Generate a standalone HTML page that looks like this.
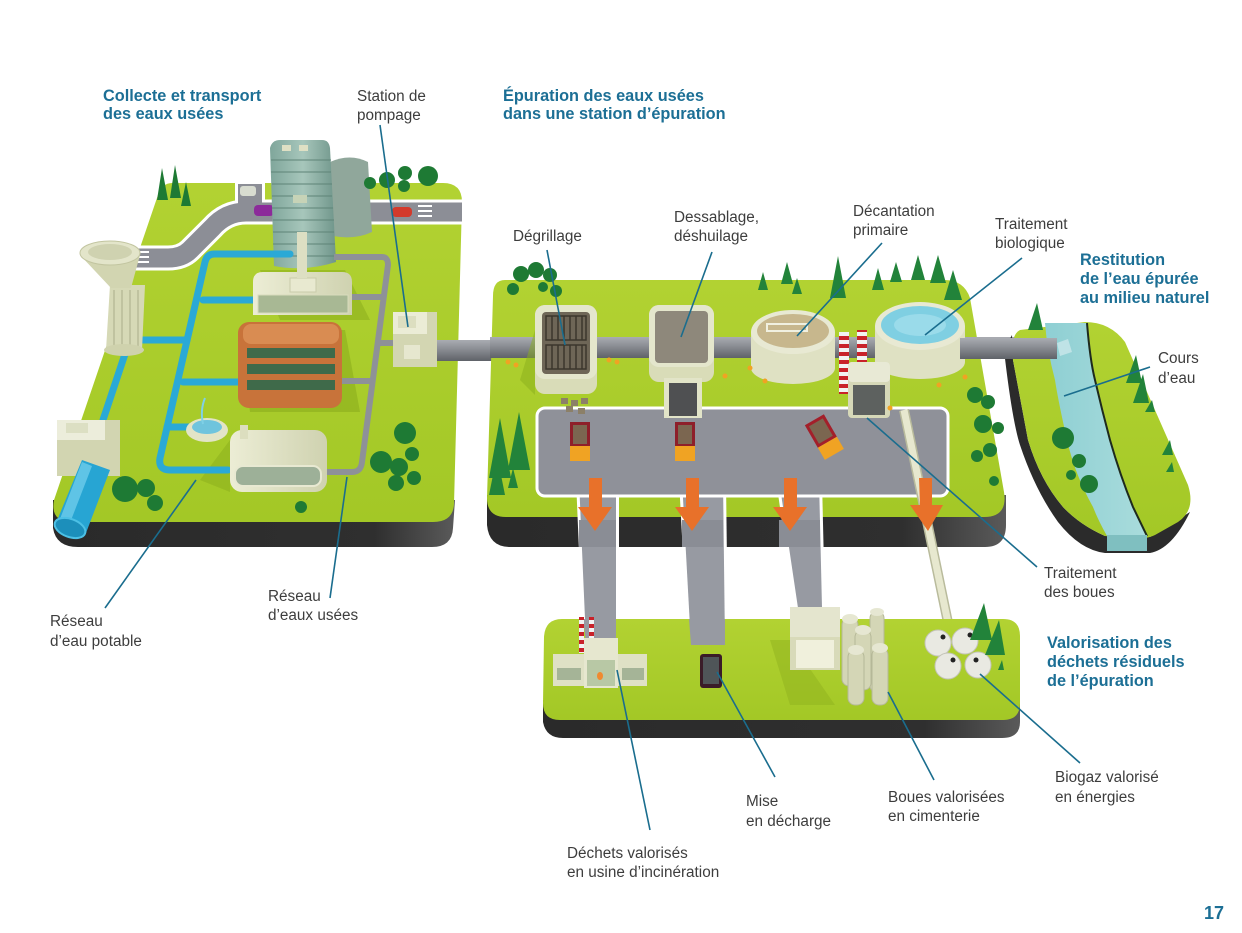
<!DOCTYPE html>
<html><head><meta charset="utf-8">
<style>
html,body{margin:0;padding:0;background:#fff;}
svg{display:block;}
.t{font-family:"Liberation Sans",Arial,sans-serif;font-size:15.3px;fill:#3d3d3d;}
.b{font-family:"Liberation Sans",Arial,sans-serif;font-size:16.3px;font-weight:bold;fill:#1c6f95;}
.ld{stroke:#1a6d8e;stroke-width:1.6;fill:none;}
</style></head><body>
<svg width="1242" height="933" viewBox="0 0 1242 933" xmlns="http://www.w3.org/2000/svg">
<defs>
<linearGradient id="gA" x1="0" y1="0" x2="0" y2="1"><stop offset="0" stop-color="#b2d232"/><stop offset="1" stop-color="#a3c826"/></linearGradient>
<linearGradient id="baseR" x1="0" y1="0" x2="1" y2="0"><stop offset="0" stop-color="#2a2a2a"/><stop offset="0.8" stop-color="#2f2f2f"/><stop offset="1" stop-color="#5a5a5a"/></linearGradient>
<linearGradient id="pipe" x1="0" y1="0" x2="0" y2="1"><stop offset="0" stop-color="#a9acb2"/><stop offset="0.4" stop-color="#8d9096"/><stop offset="1" stop-color="#5f6268"/></linearGradient>
<linearGradient id="cream" x1="0" y1="0" x2="1" y2="0"><stop offset="0" stop-color="#ecedd5"/><stop offset="1" stop-color="#cfd2b0"/></linearGradient>
<linearGradient id="glass" x1="0" y1="0" x2="1" y2="0"><stop offset="0" stop-color="#7fa69b"/><stop offset="0.5" stop-color="#a7c6bb"/><stop offset="1" stop-color="#6f958a"/></linearGradient>
<linearGradient id="river" x1="0" y1="0" x2="1" y2="0"><stop offset="0" stop-color="#8ecfd3"/><stop offset="1" stop-color="#a9dcdc"/></linearGradient>
<pattern id="stripe" width="10" height="8" patternUnits="userSpaceOnUse"><rect width="10" height="4" fill="#c9222a"/><rect y="4" width="10" height="4" fill="#f2f2f2"/></pattern>
</defs>

<!-- ================= LEFT PLATFORM ================= -->
<path d="M53 500 L53 528 Q56 547 78 547 L432 547 Q452 547 453 528 L455 500 Z" fill="url(#baseR)"/>
<path d="M172 183 L443 183 Q462 183 462 202 L454 504 Q453 522 433 522 L72 522 Q50 522 54 500 L158 195 Q162 183 172 183 Z" fill="url(#gA)"/>
<!-- roads -->
<path d="M462 212 L246 212 Q226 212 212 228 L190 250 Q182 258 168 258 L133 258" fill="none" stroke="#fff" stroke-width="25"/>
<path d="M250 183 L250 212" fill="none" stroke="#fff" stroke-width="30"/>
<path d="M462 212 L246 212 Q226 212 212 228 L190 250 Q182 258 168 258 L133 258" fill="none" stroke="#8c8e96" stroke-width="19"/>
<path d="M250 184 L250 212" fill="none" stroke="#8c8e96" stroke-width="24"/>
<g fill="#fff"><rect x="418" y="205" width="14" height="2"/><rect x="418" y="210" width="14" height="2"/><rect x="418" y="215" width="14" height="2"/><rect x="137" y="251" width="12" height="2"/><rect x="137" y="256" width="12" height="2"/><rect x="137" y="261" width="12" height="2"/></g>
<!-- cars -->
<rect x="254" y="205" width="20" height="11" rx="4" fill="#8c2a9a"/>
<rect x="392" y="207" width="20" height="10" rx="4" fill="#d33a2c"/>
<rect x="240" y="186" width="16" height="10" rx="3" fill="#d8dcd0"/>
<!-- shadows -->
<path d="M260 270 L345 270 L370 320 L280 320 Z" fill="#8eb11e" opacity="0.6"/>
<path d="M240 330 L345 330 L360 412 L250 412 Z" fill="#86a81a" opacity="0.5"/>
<path d="M200 480 L230 440 L230 492 Z" fill="#8aad1c" opacity="0.5"/>
<!-- back building & tower -->
<path d="M330 162 Q350 153 368 162 L372 232 Q355 240 333 236 Z" fill="#90a79b"/>
<path d="M270 148 Q272 140 280 140 L322 140 Q329 140 330 148 L336 262 Q305 272 274 266 Z" fill="url(#glass)"/>
<g stroke="#5f8578" stroke-width="1.2" opacity="0.8">
<line x1="271" y1="160" x2="331" y2="160"/><line x1="271" y1="172" x2="331" y2="172"/><line x1="272" y1="184" x2="332" y2="184"/><line x1="272" y1="196" x2="332" y2="196"/><line x1="272" y1="208" x2="333" y2="208"/><line x1="273" y1="220" x2="334" y2="220"/><line x1="273" y1="232" x2="334" y2="232"/><line x1="273" y1="244" x2="335" y2="244"/><line x1="274" y1="256" x2="335" y2="256"/></g>
<rect x="282" y="145" width="9" height="6" fill="#dfe0c4"/><rect x="299" y="145" width="9" height="6" fill="#dfe0c4"/>
<rect x="293" y="195" width="14" height="8" fill="#c7d3b7"/>
<!-- blue water network -->
<g fill="none" stroke="#2aa9d6" stroke-width="7" stroke-linejoin="round" stroke-linecap="round">
<path d="M290 254 L214 254 Q207 254 205 262 L160 458 Q158 470 170 470 L228 470"/>
<path d="M203 300 L256 300"/>
<path d="M183 382 L240 382"/>
<path d="M167 427 L192 427"/>
<path d="M143 340 L187 340"/>
<path d="M127 348 L103 420"/>
</g>
<!-- grey sewer network -->
<g fill="none" stroke="#8e9198" stroke-width="6" stroke-linejoin="round">
<path d="M334 257 L382 257 Q388 257 388 265 L362 462 Q361 472 352 472 L322 472"/>
<path d="M352 297 L382 297"/>
<path d="M340 381 L372 381"/>
<path d="M376 343 L395 343"/>
</g>
<!-- water tower -->
<path d="M110 285 L145 285 L142 350 L106 350 Z" fill="#d6d9b6"/>
<path d="M114 290 L114 347 M122 290 L122 347 M130 290 L130 347 M138 290 L138 347" stroke="#b9bc98" stroke-width="1.5"/>
<ellipse cx="124" cy="350" rx="20" ry="6" fill="#cfd2ad"/>
<path d="M80 255 L140 255 L131 288 L111 288 Z" fill="#d2d5b1"/>
<ellipse cx="110" cy="253" rx="30" ry="12" fill="#e3e5ca" stroke="#c2c5a0"/>
<ellipse cx="110" cy="252" rx="22" ry="8" fill="#cfd2b0"/>
<!-- top cream building -->
<path d="M253 282 Q253 272 263 272 L342 272 Q352 272 352 282 L352 315 L253 315 Z" fill="url(#cream)"/>
<rect x="258" y="295" width="90" height="18" fill="#a8b894" stroke="#d9dbbd"/>
<rect x="290" y="278" width="26" height="14" fill="#e8e9d0" stroke="#c9cbaa"/>
<rect x="297" y="232" width="10" height="46" fill="#dddfc3"/>
<!-- orange building -->
<rect x="238" y="322" width="104" height="86" rx="11" fill="#c8733a"/>
<rect x="243" y="324" width="96" height="20" rx="8" fill="#d98c52"/>
<g fill="#3f6a4a"><rect x="247" y="348" width="88" height="10"/><rect x="247" y="364" width="88" height="10"/><rect x="247" y="380" width="88" height="10"/></g>
<!-- fountain -->
<ellipse cx="207" cy="430" rx="21" ry="12" fill="#e2e4c7"/>
<ellipse cx="207" cy="427" rx="15" ry="7" fill="#6fc4dd"/>
<path d="M203 424 Q200 410 205 398" stroke="#7fd0e6" stroke-width="2" fill="none"/>
<!-- bottom cream building -->
<rect x="230" y="430" width="97" height="62" rx="12" fill="url(#cream)"/>
<rect x="235" y="466" width="86" height="20" rx="8" fill="#9db098" stroke="#e8e9d2" stroke-width="2"/>
<rect x="240" y="425" width="8" height="14" fill="#dcdebf"/>
<!-- pump box -->
<rect x="393" y="312" width="44" height="55" fill="#d3d6b2"/>
<rect x="393" y="312" width="34" height="22" fill="#ebecd6"/>
<rect x="398" y="316" width="18" height="12" fill="#dcdec0"/>
<rect x="404" y="345" width="16" height="14" fill="#e6e7cf"/>
<!-- left box & blue outlet -->
<rect x="57" y="420" width="63" height="56" fill="#d2d5b1"/>
<rect x="57" y="420" width="48" height="20" fill="#eceddb"/>
<rect x="66" y="423" width="22" height="10" fill="#dcdfc3"/>
<path d="M82 460 L110 470 L86 533 L56 523 Z" fill="#27a5d3"/>
<path d="M82 462 L92 466 L68 528 L58 524 Z" fill="#5fc4e6"/>
<ellipse cx="70" cy="528" rx="16" ry="9" transform="rotate(20 70 528)" fill="#1c8fbb" stroke="#4cc0e5" stroke-width="2"/>
<!-- trees left -->
<g fill="#1e7a34">
<circle cx="125" cy="489" r="13"/><circle cx="146" cy="488" r="9"/><circle cx="155" cy="503" r="8"/>
<circle cx="405" cy="433" r="11"/><circle cx="381" cy="462" r="11"/><circle cx="399" cy="467" r="9"/><circle cx="412" cy="454" r="7"/><circle cx="396" cy="483" r="8"/><circle cx="414" cy="478" r="7"/>
<circle cx="301" cy="507" r="6"/>
<circle cx="370" cy="183" r="6"/><circle cx="387" cy="180" r="8"/><circle cx="404" cy="186" r="6"/><circle cx="405" cy="173" r="7"/><circle cx="428" cy="176" r="10"/>
<path d="M157 200 L162 168 L168 200 Z M170 198 L175 165 L181 198 Z M181 206 L186 182 L191 206 Z"/>
</g>
<!-- main grey pipe -->
<rect x="437" y="340" width="60" height="21" fill="url(#pipe)"/>

<!-- ================= MIDDLE PLATFORM ================= -->
<path d="M487 495 L487 525 Q489 547 510 547 L985 547 Q1006 547 1006 525 L1006 495 Z" fill="url(#baseR)"/>
<path d="M505 280 L944 280 Q964 280 970 298 L1004 492 Q1008 517 984 517 L506 517 Q487 517 487 498 L493 296 Q493 280 505 280 Z" fill="url(#gA)"/>
<!-- road connections going down -->
<g>
<path d="M576 480 L619 480 L619 645 L583 645 Z" fill="#fff"/>
<path d="M579 480 L616 480 L616 642 L586 642 Z" fill="#979aa2"/>
<path d="M679 480 L726 480 L728 648 L688 648 Z" fill="#fff"/>
<path d="M682 480 L723 480 L725 645 L691 645 Z" fill="#979aa2"/>
<path d="M776 480 L822 480 L825 610 L795 610 Z" fill="#fff"/>
<path d="M779 480 L819 480 L822 608 L798 608 Z" fill="#979aa2"/>
<path d="M579 520 L616 520 L616 547 L579 547 Z M682 520 L723 520 L723 547 L682 547 Z M779 520 L820 520 L820 547 L779 547 Z" fill="#8a8d95"/>
</g>
<!-- main pipe middle -->
<rect x="490" y="337" width="570" height="21" fill="url(#pipe)"/>
<!-- paved area -->
<rect x="537" y="408" width="411" height="88" rx="8" fill="#8f9199" stroke="#fff" stroke-width="3"/>
<!-- shadows -->
<path d="M520 380 L535 330 L535 395 Z" fill="#8aad1c" opacity="0.5"/>
<!-- Degrillage tank -->
<rect x="535" y="305" width="62" height="89" rx="10" fill="#d9dcb8"/>
<rect x="535" y="305" width="62" height="74" rx="10" fill="#e4e6cc"/>
<rect x="542" y="312" width="48" height="62" rx="4" fill="#6e6657"/>
<g stroke="#3b362d" stroke-width="1.5" fill="none"><rect x="546" y="316" width="40" height="24"/><rect x="546" y="345" width="40" height="24"/>
<path d="M552 316 V340 M558 316 V340 M564 316 V340 M570 316 V340 M576 316 V340 M582 316 V340 M552 345 V369 M558 345 V369 M564 345 V369 M570 345 V369 M576 345 V369 M582 345 V369"/></g>
<!-- Dessablage tank -->
<rect x="649" y="305" width="65" height="77" rx="10" fill="#d9dcb8"/>
<rect x="649" y="305" width="65" height="62" rx="10" fill="#e4e6cc"/>
<rect x="655" y="311" width="53" height="52" rx="4" fill="#8e887b"/>
<rect x="664" y="378" width="38" height="40" fill="#e2e4c8"/>
<rect x="669" y="383" width="28" height="33" fill="#4f5052"/>
<!-- Decantation -->
<path d="M751 332 L751 368 A42 16 0 0 0 835 368 L835 332 Z" fill="#dfe1c3"/>
<ellipse cx="793" cy="332" rx="42" ry="22" fill="#e8e9d3"/>
<ellipse cx="793" cy="331" rx="36" ry="17" fill="#c7b78d"/>
<rect x="767" y="324" width="40" height="7" fill="none" stroke="#f0f0e0" stroke-width="2"/>
<!-- chimneys -->
<rect x="839" y="332" width="10" height="62" fill="url(#stripe)"/>
<rect x="857" y="330" width="10" height="62" fill="url(#stripe)"/>
<!-- Biologique -->
<path d="M875 326 L875 362 A45 17 0 0 0 965 362 L965 326 Z" fill="#dfe1c3"/>
<ellipse cx="920" cy="326" rx="45" ry="24" fill="#e8e9d3"/>
<ellipse cx="920" cy="325" rx="39" ry="19" fill="#7fcfe2"/>
<ellipse cx="920" cy="325" rx="26" ry="11" fill="#a5e0ee" opacity="0.7"/>
<!-- sludge box -->
<rect x="848" y="362" width="42" height="56" rx="4" fill="#d6d8b8"/>
<rect x="848" y="362" width="42" height="20" rx="4" fill="#e8e9d5"/>
<rect x="853" y="385" width="32" height="30" fill="#5d615f"/>
<!-- cream tube -->
<path d="M904 410 L952 642" stroke="#b9bb9c" stroke-width="10" fill="none"/>
<path d="M904 410 L952 642" stroke="#e7e8cf" stroke-width="7" fill="none"/>
<!-- rocks -->
<g fill="#8c8068"><rect x="561" y="398" width="7" height="6"/><rect x="571" y="400" width="7" height="6"/><rect x="581" y="398" width="7" height="6"/><rect x="566" y="406" width="7" height="6"/><rect x="578" y="408" width="7" height="6"/></g>
<!-- trucks -->
<rect x="570" y="422" width="20" height="25" fill="#8e1f2a"/><rect x="573" y="425" width="14" height="19" fill="#7b6650"/><rect x="570" y="446" width="20" height="15" fill="#f0a323"/>
<rect x="675" y="422" width="20" height="25" fill="#8e1f2a"/><rect x="678" y="425" width="14" height="19" fill="#7b6650"/><rect x="675" y="446" width="20" height="15" fill="#f0a323"/>
<g transform="rotate(-30 822 435)"><rect x="812" y="418" width="22" height="26" fill="#a31f2a"/><rect x="815" y="421" width="16" height="20" fill="#7b6650"/><rect x="812" y="444" width="22" height="14" fill="#f0a323"/></g>
<!-- arrows -->
<g fill="#e8712a">
<path d="M589 478 L602 478 L602 507 L612 507 L595 531 L578 507 L589 507 Z"/>
<path d="M686 478 L699 478 L699 507 L709 507 L692 531 L675 507 L686 507 Z"/>
<path d="M784 478 L797 478 L797 507 L807 507 L790 531 L773 507 L784 507 Z"/>
<path d="M919 478 L932 478 L932 505 L943 505 L928 531 L910 505 L920 505 Z"/>
</g>
<!-- trees middle -->
<g fill="#1e7a34">
<circle cx="521" cy="274" r="8"/><circle cx="536" cy="270" r="8"/><circle cx="550" cy="275" r="7"/><circle cx="556" cy="291" r="6"/><circle cx="513" cy="289" r="6"/><circle cx="543" cy="287" r="5"/>
<circle cx="975" cy="395" r="8"/><circle cx="988" cy="402" r="7"/><circle cx="983" cy="424" r="9"/><circle cx="998" cy="428" r="6"/><circle cx="990" cy="450" r="7"/><circle cx="977" cy="456" r="6"/><circle cx="994" cy="481" r="5"/>
</g>
<g fill="#22833a">
<path d="M758 290 L763 272 L768 290 Z M781 284 L787 262 L793 284 Z M792 294 L797 278 L802 294 Z M830 298 L838 256 L846 298 Z M872 290 L878 268 L884 290 Z M890 282 L896 262 L902 282 Z M911 280 L918 255 L925 280 Z M930 283 L938 255 L946 283 Z M944 300 L953 270 L962 300 Z"/>
<path d="M489 478 L500 418 L511 478 Z M508 470 L519 412 L530 470 Z M489 495 L497 455 L505 495 Z M508 488 L513 468 L518 488 Z"/>
</g>
<!-- workers (tiny) -->
<g fill="#f0a323"><circle cx="508" cy="362" r="2.5"/><circle cx="516" cy="365" r="2.5"/><circle cx="609" cy="360" r="2.5"/><circle cx="617" cy="362" r="2.5"/><circle cx="725" cy="376" r="2.5"/><circle cx="750" cy="368" r="2.5"/><circle cx="765" cy="381" r="2.5"/><circle cx="939" cy="385" r="2.5"/><circle cx="965" cy="377" r="2.5"/><circle cx="890" cy="408" r="2.5"/></g>

<!-- ================= RIVER PLATFORM ================= -->
<path d="M1012 335 L1004 350 Q1012 420 1020 445 Q1035 490 1058 522 Q1080 550 1105 553 L1150 553 Q1172 549 1190 512 L1150 537 L1105 536 Q1080 525 1063 507 Q1040 480 1028 440 L1013 360 Z" fill="#2b2b2b"/>
<path d="M1020 330 L1085 322 Q1110 322 1125 342 L1188 485 Q1196 510 1178 522 L1155 535 Q1145 540 1130 538 L1105 536 Q1080 525 1063 507 Q1040 480 1028 440 L1013 360 Q1010 335 1020 330 Z" fill="url(#gA)"/>
<path d="M1045 323 L1087 323 Q1090 360 1095 380 Q1102 410 1110 440 Q1120 475 1133 507 L1147 536 L1107 536 Q1098 520 1093 507 Q1075 475 1067 440 Q1058 400 1055 380 Q1047 350 1045 323 Z" fill="url(#river)"/>
<path d="M1087 323 Q1090 360 1095 380 Q1102 410 1110 440 Q1120 475 1133 507 L1147 536" stroke="#1e2a1e" stroke-width="2" fill="none"/>
<rect x="1107" y="535" width="40" height="16" fill="#7fbfc0"/>
<g fill="#1e7a34"><circle cx="1063" cy="438" r="11"/><circle cx="1079" cy="461" r="7"/><circle cx="1071" cy="475" r="5"/><circle cx="1089" cy="484" r="9"/></g>
<g fill="#22833a"><path d="M1126 383 L1136 355 L1142 383 Z M1133 403 L1143 374 L1149 403 Z M1145 412 L1152 400 L1155 412 Z M1162 455 L1170 440 L1173 455 Z M1166 472 L1172 462 L1174 472 Z M1028 330 L1037 303 L1043 330 Z"/></g>
<!-- pipe to river -->
<rect x="960" y="338" width="97" height="21" fill="url(#pipe)"/>
<path d="M1057 343 L1068 339 L1072 352 L1060 356 Z" fill="#bfe3e6"/>

<!-- ================= BOTTOM PLATFORM ================= -->
<path d="M543 700 L543 722 Q546 738 563 738 L1002 738 Q1020 738 1020 722 L1020 700 Z" fill="url(#baseR)"/>
<path d="M562 619 L1003 619 Q1020 619 1020 636 L1020 703 Q1020 720 1003 720 L560 720 Q543 720 543 703 L544 637 Q545 619 562 619 Z" fill="url(#gA)"/>
<!-- road ends on bottom platform -->
<path d="M583 619 L616 619 L616 642 L586 642 Z" fill="#979aa2"/>
<path d="M689 619 L725 619 L725 645 L691 645 Z" fill="#979aa2"/>
<!-- incinerator -->
<rect x="579" y="617" width="5" height="36" fill="url(#stripe)"/>
<rect x="589" y="617" width="5" height="36" fill="url(#stripe)"/>
<rect x="553" y="654" width="94" height="32" fill="#dfe1c5"/>
<rect x="584" y="638" width="34" height="50" fill="#e6e7cf"/>
<rect x="587" y="660" width="28" height="26" fill="#b8c8a5"/>
<ellipse cx="600" cy="676" rx="3" ry="4" fill="#f08a30"/>
<g fill="#a5b497"><rect x="557" y="668" width="24" height="12"/><rect x="622" y="668" width="22" height="12"/></g>
<!-- dark truck -->
<rect x="700" y="654" width="22" height="34" rx="3" fill="#3a1c28"/>
<rect x="703" y="657" width="16" height="27" fill="#4f5558"/>
<!-- cement -->
<path d="M770 640 L790 640 L835 705 L790 705 Z" fill="#8fb11e" opacity="0.5"/>
<rect x="790" y="607" width="50" height="63" fill="#d8dab9"/>
<rect x="790" y="607" width="50" height="30" fill="#e4e5ce"/>
<rect x="796" y="640" width="38" height="28" fill="#f0f0dc"/>
<g fill="#d4d6b6" stroke="#b5b898" stroke-width="1">
<rect x="842" y="618" width="16" height="68" rx="7"/><rect x="870" y="612" width="14" height="80" rx="6"/><rect x="855" y="630" width="16" height="60" rx="7"/>
<rect x="848" y="650" width="16" height="55" rx="7"/><rect x="872" y="648" width="16" height="57" rx="7"/>
</g>
<g fill="#e6e7d2"><ellipse cx="850" cy="619" rx="8" ry="5"/><ellipse cx="863" cy="630" rx="8" ry="5"/><ellipse cx="877" cy="612" rx="7" ry="4"/><ellipse cx="856" cy="650" rx="8" ry="5"/><ellipse cx="880" cy="648" rx="8" ry="5"/></g>
<!-- biogaz spheres -->
<g fill="#e9e9e2" stroke="#c4c4b8" stroke-width="1">
<circle cx="938" cy="643" r="13"/><circle cx="965" cy="641" r="13"/><circle cx="948" cy="666" r="13"/><circle cx="978" cy="665" r="13"/></g>
<g fill="#222"><circle cx="943" cy="637" r="2.5"/><circle cx="970" cy="635" r="2.5"/><circle cx="953" cy="660" r="2.5"/><circle cx="976" cy="660" r="2.5"/></g>
<g fill="#22833a"><path d="M970 640 L984 603 L992 640 Z M985 655 L999 620 L1005 655 Z M998 670 L1002 660 L1004 670 Z"/></g>

<!-- ================= LEADER LINES ================= -->
<g class="ld">
<line x1="380" y1="125" x2="408" y2="327"/>
<line x1="547" y1="250" x2="565" y2="345"/>
<line x1="712" y1="252" x2="681" y2="337"/>
<line x1="882" y1="243" x2="797" y2="336"/>
<line x1="1022" y1="258" x2="925" y2="335"/>
<line x1="1150" y1="367" x2="1064" y2="396"/>
<line x1="1037" y1="567" x2="867" y2="418"/>
<line x1="105" y1="608" x2="196" y2="480"/>
<line x1="330" y1="598" x2="347" y2="477"/>
<line x1="650" y1="830" x2="617" y2="670"/>
<line x1="775" y1="777" x2="717" y2="672"/>
<line x1="934" y1="780" x2="888" y2="692"/>
<line x1="1080" y1="763" x2="980" y2="674"/>
</g>

<!-- ================= TEXT ================= -->
<text class="b" x="103" y="101">Collecte et transport</text>
<text class="b" x="103" y="119">des eaux usées</text>
<text class="t" x="357" y="101">Station de</text>
<text class="t" x="357" y="120">pompage</text>
<text class="b" x="503" y="101">Épuration des eaux usées</text>
<text class="b" x="503" y="119">dans une station d’épuration</text>
<text class="t" x="513" y="241">Dégrillage</text>
<text class="t" x="674" y="222">Dessablage,</text>
<text class="t" x="674" y="241">déshuilage</text>
<text class="t" x="853" y="216">Décantation</text>
<text class="t" x="853" y="235">primaire</text>
<text class="t" x="995" y="229">Traitement</text>
<text class="t" x="995" y="248">biologique</text>
<text class="b" x="1080" y="265">Restitution</text>
<text class="b" x="1080" y="284">de l’eau épurée</text>
<text class="b" x="1080" y="303">au milieu naturel</text>
<text class="t" x="1158" y="363">Cours</text>
<text class="t" x="1158" y="383">d’eau</text>
<text class="t" x="1044" y="578">Traitement</text>
<text class="t" x="1044" y="597">des boues</text>
<text class="b" x="1047" y="648">Valorisation des</text>
<text class="b" x="1047" y="667">déchets résiduels</text>
<text class="b" x="1047" y="686">de l’épuration</text>
<text class="t" x="1055" y="782">Biogaz valorisé</text>
<text class="t" x="1055" y="802">en énergies</text>
<text class="t" x="888" y="802">Boues valorisées</text>
<text class="t" x="888" y="821">en cimenterie</text>
<text class="t" x="746" y="806">Mise</text>
<text class="t" x="746" y="826">en décharge</text>
<text class="t" x="567" y="858">Déchets valorisés</text>
<text class="t" x="567" y="877">en usine d’incinération</text>
<text class="t" x="50" y="626">Réseau</text>
<text class="t" x="50" y="646">d’eau potable</text>
<text class="t" x="268" y="601">Réseau</text>
<text class="t" x="268" y="620">d’eaux usées</text>
<text class="b" x="1204" y="919" style="font-size:18px">17</text>
</svg>
</body></html>
